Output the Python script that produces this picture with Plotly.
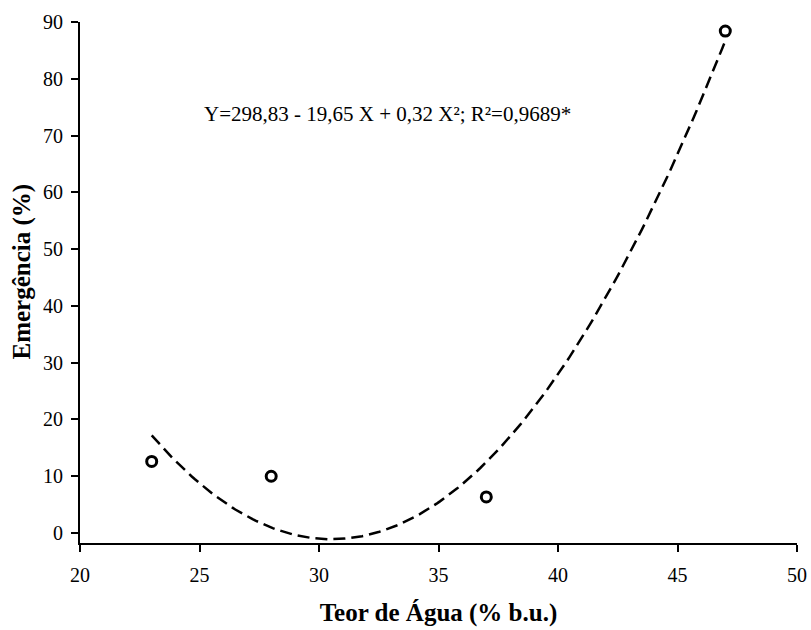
import numpy as np
import plotly.graph_objects as go

teor = [23, 28, 37, 47]
emergencia = [12.6, 10.0, 6.35, 88.4]
x_ticks = [20, 25, 30, 35, 40, 45, 50]
y_ticks = [0, 10, 20, 30, 40, 50, 60, 70, 80, 90]
equation = "Y=298,83 - 19,65 X + 0,32 X²; R²=0,9689*"

coef = np.polyfit(teor, emergencia, 2)
xc = np.linspace(min(teor), max(teor), 200)
yc = np.polyval(coef, xc)

FONT = "Liberation Serif"
fig = go.Figure()
fig.add_trace(go.Scatter(x=xc, y=yc, mode="lines",
                         line=dict(color="black", width=2.5, dash="12px,6px"),
                         hoverinfo="skip", showlegend=False))
fig.add_trace(go.Scatter(x=teor, y=emergencia, mode="markers",
                         marker=dict(symbol="circle-open", size=10, color="black",
                                     line=dict(width=3, color="black")),
                         showlegend=False))

fig.add_annotation(x=32.85, y=73.8, text=equation, showarrow=False,
                   font=dict(family=FONT, size=21, color="black"))
fig.add_annotation(xref="paper", yref="paper", x=-0.081, y=0.521,
                   xanchor="center", yanchor="middle",
                   text="<b>Emergência (%)</b>", textangle=-90, showarrow=False,
                   font=dict(family=FONT, size=25, color="black"))

fig.update_layout(
    width=811, height=630, autosize=False,
    margin=dict(l=80, r=14, t=22, b=87, autoexpand=False),
    plot_bgcolor="white", paper_bgcolor="white",
    font=dict(family=FONT, size=20, color="black"),
    xaxis=dict(range=[20, 50], tickvals=x_ticks, showgrid=False, zeroline=False,
               automargin=False,
               showline=True, linecolor="black", linewidth=2,
               ticks="outside", ticklen=7, tickwidth=1.5, tickcolor="black",
               ticklabelstandoff=6,
               title=dict(text="<b>Teor de Água (% b.u.)</b>", standoff=18,
                          font=dict(family=FONT, size=25))),
    yaxis=dict(range=[-1.76, 90], tickvals=y_ticks, showgrid=False, zeroline=False,
               automargin=False,
               showline=True, linecolor="black", linewidth=2,
               ticks="outside", ticklen=7, tickwidth=1.5, tickcolor="black",
               ticklabelstandoff=4),
)
fig.write_html("out.html")
